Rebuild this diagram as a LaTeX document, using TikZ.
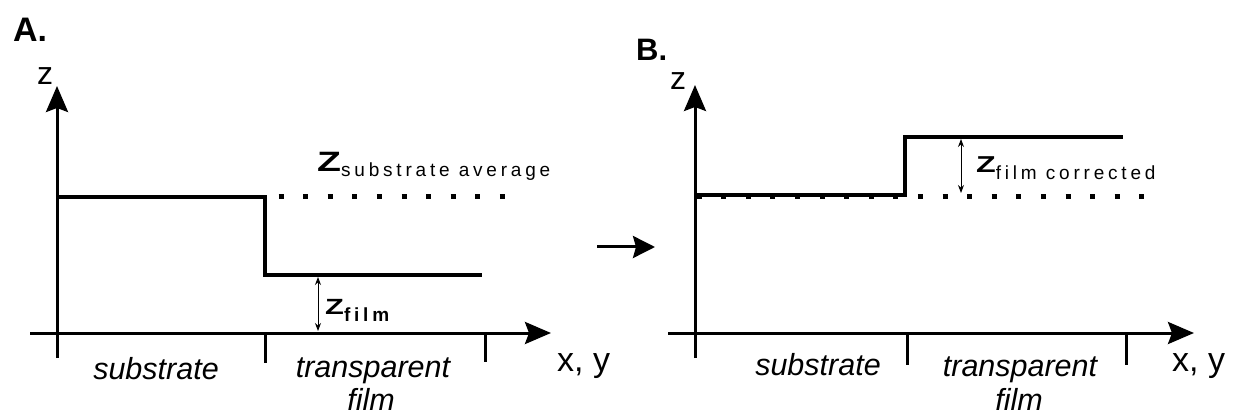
\documentclass[tikz,border=0pt]{standalone}
\usepackage{fontspec}
\setmainfont{Liberation Sans}
\newfontfamily\spaced[LetterSpace=20]{Liberation Sans}
\usetikzlibrary{arrows.meta}
\begin{document}
\begin{tikzpicture}[x=1pt,y=-1pt,
  axis/.style={line width=3pt,-{Stealth[length=26pt,width=22pt,inset=4pt]}},
  tickline/.style={line width=3pt},
  profile/.style={line width=4pt,line join=miter},
  dots/.style={line width=5pt,dash pattern=on 5pt off 19.6pt},
  dim/.style={line width=0.9pt,{Stealth[length=8pt,width=6pt]}-{Stealth[length=8pt,width=6pt]}},
  lab/.style={inner sep=0pt,font=\fontsize{30.5}{34}\selectfont\itshape},
  axlab/.style={inner sep=0pt,font=\fontsize{34}{36}\selectfont},
  zlab/.style={inner sep=0pt,font=\fontsize{32}{36}\selectfont},
  sub/.style={inner sep=0pt,anchor=base west}]
\useasboundingbox (0,0) rectangle (1235,414);
\fill[white] (0,0) rectangle (1235,414);

% ---------- Panel A ----------
\node[inner sep=0pt,anchor=base west,font=\fontsize{34}{38}\selectfont\bfseries] (A) at (13,42) {A.};
\coordinate (Azb) at (57,358);
\coordinate (Azt) at (57,86);
\coordinate (Axl) at (30,333);
\coordinate (Axr) at (551,333);
\draw[axis] (Azb) -- (Azt);
\draw[axis] (Axl) -- (Axr);
\coordinate (At1a) at (265,333); \coordinate (At1b) at (265,363);
\coordinate (At2a) at (485,333); \coordinate (At2b) at (485,362);
\draw[tickline] (At1a) -- (At1b);
\draw[tickline] (At2a) -- (At2b);
\draw[dots] (278.5,197) -- (505,197);
\draw[profile] (57,197) -- (265,197) -- (265,275) -- (482,275);
\coordinate (Ada) at (318,277); \coordinate (Adb) at (318,331);
\draw[dim] (Ada) -- (Adb);

\node[zlab,anchor=base west] (Az) at (37,85) {z};
\node[sub] (Asub) at (317,172) {\fontsize{28}{30}\selectfont\bfseries\scalebox{1.4}[1]{Z}\raisebox{-5pt}{\spaced\mdseries\fontsize{19}{20}\selectfont substrate average}};
\node[sub] (Afilm) at (325,315) {\fontsize{22}{24}\selectfont\bfseries\scalebox{1.4}[1]{Z}\raisebox{-7pt}{\spaced\bfseries\fontsize{19}{20}\selectfont film}};
\node[lab,anchor=base] (As) at (156,379) {substrate};
\node[lab,anchor=base] (At) at (373,377) {transparent};
\node[lab,anchor=base] (Af) at (371,410) {film};
\node[axlab,anchor=base west] (Axy) at (557,371) {x, y};

% ---------- arrow between panels ----------
\coordinate (Ma) at (597,247);
\coordinate (Mb) at (655,247);
\draw[line width=3pt,-{Stealth[length=22pt,width=22pt,inset=3pt]}] (Ma) -- (Mb);

% ---------- Panel B ----------
\node[inner sep=0pt,anchor=base west,font=\fontsize{31}{34}\selectfont\bfseries] (B) at (636,61) {B.};
\coordinate (Bzb) at (695,358);
\coordinate (Bzt) at (695,85);
\coordinate (Bxl) at (668,333);
\coordinate (Bxr) at (1194,333);
\draw[axis] (Bzb) -- (Bzt);
\draw[axis] (Bxl) -- (Bxr);
\coordinate (Bt1a) at (907,333); \coordinate (Bt1b) at (907,365);
\coordinate (Bt2a) at (1126,333); \coordinate (Bt2b) at (1126,365);
\draw[tickline] (Bt1a) -- (Bt1b);
\draw[tickline] (Bt2a) -- (Bt2b);
\draw[dots] (696.5,197) -- (1145,197);
\draw[profile] (695,195) -- (905,195) -- (905,137) -- (1123,137);
\coordinate (Bda) at (961,139); \coordinate (Bdb) at (961,193);
\draw[dim] (Bda) -- (Bdb);

\node[zlab,anchor=base west] (Bz) at (670,90) {z};
\node[sub] (Bsub) at (976,173) {\fontsize{23}{24}\selectfont\bfseries\scalebox{1.4}[1]{Z}\raisebox{-7pt}{\spaced\mdseries\fontsize{19}{20}\selectfont film corrected}};
\node[lab,anchor=base] (Bs) at (818,375) {substrate};
\node[lab,anchor=base] (Bt) at (1020,376) {transparent};
\node[lab,anchor=base] (Bf) at (1019,410) {film};
\node[axlab,anchor=base west] (Bxy) at (1172,371) {x, y};
\end{tikzpicture}
\end{document}
